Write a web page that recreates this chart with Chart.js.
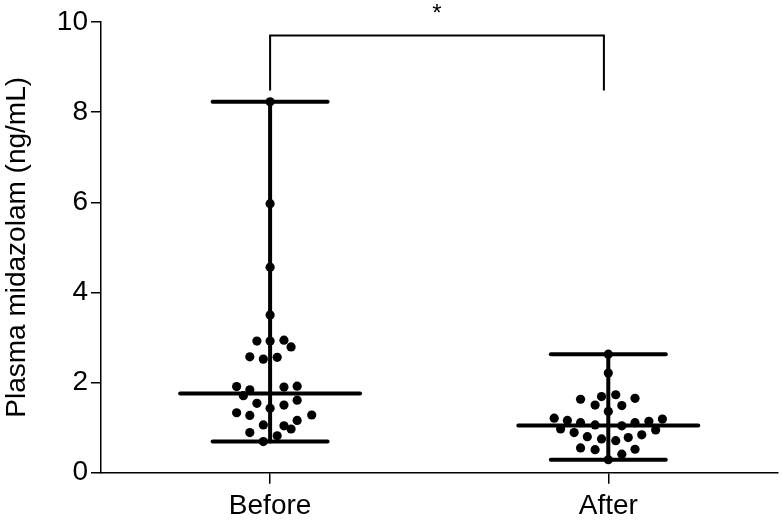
<!DOCTYPE html>
<html lang="en">
<head>
  <meta charset="UTF-8" />
  <title>Plasma midazolam</title>
  <style>
    body { margin: 0; background: #fff; }
    #wrap { width: 782px; height: 520px; }
  </style>
</head>
<body>
  <div id="wrap"><canvas id="chart" width="782" height="520"></canvas></div>

<script src="https://cdn.jsdelivr.net/npm/chart.js"></script>
<script>
// DATA
const categories = ["Before", "After"];
const categoryPos = [1, 2];
const yTicks = [0, 2, 4, 6, 8, 10];

const beforeValues = [8.23, 5.97, 4.56, 3.50, 2.92, 2.92, 2.94, 2.79, 2.57, 2.52, 2.56, 1.91, 1.84, 1.71, 1.90,
  1.92, 1.61, 1.54, 1.43, 1.50, 1.33, 1.27, 1.28, 1.16, 1.06, 1.04, 0.97, 0.89, 0.82, 0.69];
const beforeJitter = [0, 0, 0, 0, -0.039, 0, 0.041, 0.062, -0.060, -0.020, 0.021, -0.099, -0.060, -0.079, 0.041,
  0.080, 0.080, -0.039, 0, 0.041, -0.099, -0.060, 0.123, 0.080, -0.020, 0.041, 0.062, -0.060, 0.021, -0.020];

const afterValues = [2.63, 2.21, 1.63, 1.50, 1.69, 1.73, 1.49, 1.65, 1.36, 1.21, 1.16, 1.11, 1.06, 1.04, 1.11,
  1.14, 1.19, 0.97, 0.89, 0.95, 0.80, 0.75, 0.71, 0.78, 0.84, 0.55, 0.51, 0.41, 0.52, 0.29];
const afterJitter = [0, 0, -0.082, -0.039, -0.020, 0.022, 0.040, 0.079, 0, -0.160, -0.121, -0.082, -0.039, 0.040, 0.079,
  0.120, 0.160, -0.141, -0.101, 0.140, -0.062, -0.020, 0.022, 0.059, 0.099, -0.082, -0.039, 0.040, 0.079, 0];

const medians = [1.76, 1.05];
const mins = [0.69, 0.29];
const maxs = [8.23, 2.63];

const bracketY = [8.48, 9.70];
const bracketEnds = [1, 1.987];
const starLabel = "*";

// STYLE
const medianHalf = 0.266;
const capHalf = 0.17;
const fontFamily = '"Liberation Sans", Arial, Helvetica, sans-serif';

Chart.defaults.font.family = fontFamily;
Chart.defaults.color = "#000";

function lineSet(points, width) {
  return {
    type: "line",
    data: points,
    showLine: true,
    borderColor: "#000",
    borderWidth: width,
    borderCapStyle: "round",
    pointRadius: 0,
    fill: false,
    clip: false
  };
}

const datasets = [];
categoryPos.forEach((c, i) => {
  datasets.push(lineSet([{ x: c, y: mins[i] }, { x: c, y: maxs[i] }], 4));
  datasets.push(lineSet([{ x: c - medianHalf, y: medians[i] }, { x: c + medianHalf, y: medians[i] }], 4));
  datasets.push(lineSet([{ x: c - capHalf, y: maxs[i] }, { x: c + capHalf, y: maxs[i] }], 4));
  datasets.push(lineSet([{ x: c - capHalf, y: mins[i] }, { x: c + capHalf, y: mins[i] }], 4));
});

const bracket = lineSet([
  { x: bracketEnds[0], y: bracketY[0] },
  { x: bracketEnds[0], y: bracketY[1] },
  { x: bracketEnds[1], y: bracketY[1] },
  { x: bracketEnds[1], y: bracketY[0] }
], 2);
bracket.borderCapStyle = "butt";
datasets.push(bracket);

function dots(values, jitter, c) {
  return {
    type: "scatter",
    data: values.map((v, i) => ({ x: c + jitter[i], y: v })),
    backgroundColor: "#000",
    borderColor: "#000",
    pointRadius: 4.6,
    borderWidth: 0,
    clip: false
  };
}
datasets.push(dots(beforeValues, beforeJitter, categoryPos[0]));
datasets.push(dots(afterValues, afterJitter, categoryPos[1]));

// star above bracket
const starPlugin = {
  id: "star",
  afterDatasetsDraw(chart) {
    const { ctx, scales } = chart;
    const x = scales.x.getPixelForValue((bracketEnds[0] + bracketEnds[1]) / 2);
    const y = scales.y.getPixelForValue(bracketY[1]) - 26;
    ctx.save();
    ctx.fillStyle = "#000";
    ctx.font = "24px " + fontFamily;
    ctx.textAlign = "center";
    ctx.textBaseline = "middle";
    ctx.fillText(starLabel, x, y + 5);
    ctx.restore();
  }
};

new Chart(document.getElementById("chart").getContext("2d"), {
  type: "scatter",
  data: { datasets },
  plugins: [starPlugin],
  options: {
    responsive: false,
    animation: false,
    layout: { padding: { left: 0, right: 4, top: 22, bottom: 0 } },
    plugins: { legend: { display: false }, tooltip: { enabled: false } },
    scales: {
      x: {
        type: "linear",
        min: 0.5,
        max: 2.5,
        afterBuildTicks: s => { s.ticks = categoryPos.map(v => ({ value: v })); },
        afterFit: s => { s.height = 47.3; },
        ticks: {
          callback: v => categories[categoryPos.indexOf(v)],
          font: { size: 28 },
          color: "#000",
          padding: 6
        },
        grid: { drawOnChartArea: false, tickLength: 11, color: "#000", lineWidth: 1.5 },
        border: { color: "#000", width: 1.5 }
      },
      y: {
        min: 0,
        max: 10,
        afterBuildTicks: s => { s.ticks = yTicks.map(v => ({ value: v })); },
        afterFit: s => { s.width = 101; },
        ticks: { font: { size: 28 }, color: "#000", padding: 3 },
        grid: { drawOnChartArea: false, tickLength: 10, color: "#000", lineWidth: 1.5 },
        border: { color: "#000", width: 1.5 },
        title: {
          display: true,
          text: "Plasma midazolam (ng/mL)",
          font: { size: 28 },
          color: "#000",
          padding: { top: 0, bottom: 0 }
        }
      }
    }
  }
});
</script>
</body>
</html>
